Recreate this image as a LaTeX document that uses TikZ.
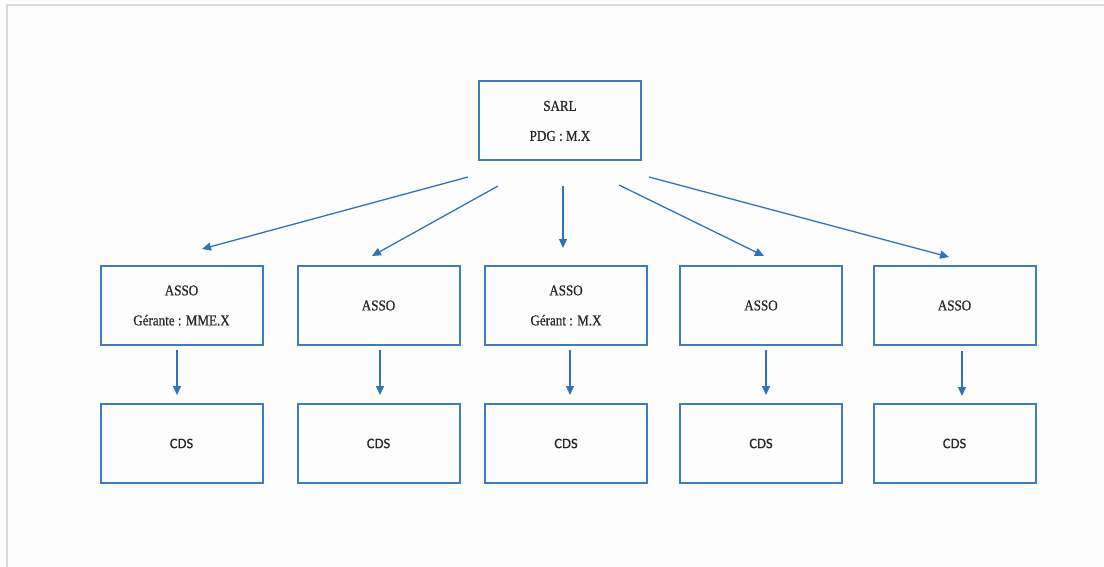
\documentclass[tikz,border=0pt]{standalone}
\usepackage{fontspec}
\setmainfont{Liberation Serif}[FakeStretch=0.87,FakeBold=0.6]
\newfontfamily\cdsfont{Carlito}[FakeBold=0.6]
\usetikzlibrary{arrows.meta}
\definecolor{boxblue}{HTML}{3C7DC2}
\definecolor{arrblue}{HTML}{2F74B8}
\definecolor{txt}{HTML}{262626}
\definecolor{frame}{HTML}{DADADA}
\definecolor{bg}{HTML}{FDFDFD}
\begin{document}
\begin{tikzpicture}[x=1pt,y=-1pt,
  orgbox/.style={draw=boxblue,line width=2pt,minimum width=162pt,minimum height=79pt,inner sep=0pt,
    text=txt,align=center,font=\fontsize{15}{30}\selectfont},
  cdsbox/.style={orgbox,font=\cdsfont\fontsize{14.5}{17}\selectfont},
  arr/.style={draw=arrblue,line width=1.3pt,-{Triangle[length=9pt,width=8pt]}}]
\fill[bg] (0,0) rectangle (1104,567);
\useasboundingbox (0,0) rectangle (1104,567);
\draw[frame,line width=2pt] (6.5,567) -- (6.5,5.5) -- (1104,5.5);

\node[orgbox] (sarl) at (560,121) {SARL\\PDG : M.X};

\node[orgbox] (a1) at (181.5,305.5) {ASSO\\Gérante : MME.X};
\node[orgbox] (a2) at (378.5,305.5) {ASSO};
\node[orgbox] (a3) at (566,305.5) {ASSO\\Gérant : M.X};
\node[orgbox] (a4) at (761,305.5) {ASSO};
\node[orgbox] (a5) at (954.5,305.5) {ASSO};

\node[cdsbox] (c1) at (181.5,443.5) {CDS};
\node[cdsbox] (c2) at (378.5,443.5) {CDS};
\node[cdsbox] (c3) at (566,443.5) {CDS};
\node[cdsbox] (c4) at (761,443.5) {CDS};
\node[cdsbox] (c5) at (954.5,443.5) {CDS};

% connector end points (arrows stand free of the boxes)
\coordinate (s1) at (468,177); \coordinate (e1) at (202,249);
\coordinate (s2) at (498,186); \coordinate (e2) at (372,256);
\coordinate (s3) at (563,186); \coordinate (e3) at (563,248);
\coordinate (s4) at (619,185); \coordinate (e4) at (764,256);
\coordinate (s5) at (649,177); \coordinate (e5) at (949,257);

\draw[arr] (s1) -- (e1);
\draw[arr] (s2) -- (e2);
\draw[arr] (s3) -- (e3);
\draw[arr] (s4) -- (e4);
\draw[arr] (s5) -- (e5);

\coordinate (v1s) at (177,350); \coordinate (v1e) at (177,395);
\coordinate (v2s) at (380,350); \coordinate (v2e) at (380,395);
\coordinate (v3s) at (570,350); \coordinate (v3e) at (570,395);
\coordinate (v4s) at (766,350); \coordinate (v4e) at (766,395);
\coordinate (v5s) at (962,351); \coordinate (v5e) at (962,396);

\draw[arr] (v1s) -- (v1e);
\draw[arr] (v2s) -- (v2e);
\draw[arr] (v3s) -- (v3e);
\draw[arr] (v4s) -- (v4e);
\draw[arr] (v5s) -- (v5e);
\end{tikzpicture}
\end{document}
